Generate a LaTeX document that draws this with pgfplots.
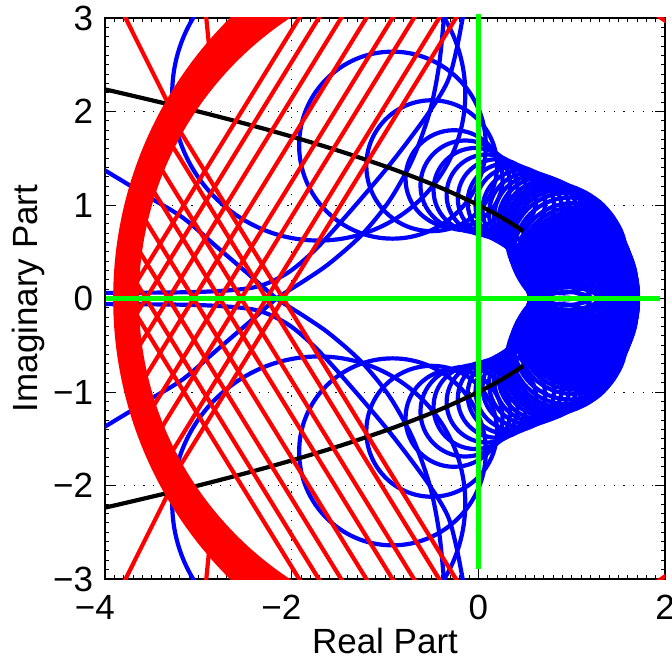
\documentclass[border=0pt]{standalone}
\usepackage{fontspec}
\setmainfont{Liberation Sans}
\usepackage{pgfplots}
\usepackage{pgfplotstable}
\pgfplotsset{compat=1.18}
\definecolor{mred}{rgb}{1,0,0}
\definecolor{mblue}{rgb}{0,0,1}
\definecolor{mgreen}{rgb}{0,1,0}
\pgfdeclareplotmark{ringdummy}{}
% axis units (scale only axis: 280pt / 6, 280.5pt / 6)
\newcommand{\xu}{46.6667pt}
\newcommand{\yu}{46.75pt}
\newcommand{\lw}{2.1pt}
\pgfplotsset{
  rings/.style={
    only marks, mark=ringdummy, scatter, point meta=explicit symbolic,
    scatter/@pre marker code/.code={%
      \let\rr=\pgfplotspointmeta
      \pgfpathellipse{\pgfpointorigin}{\pgfpoint{\rr*\xu}{0pt}}{\pgfpoint{0pt}{\rr*\yu}}%
      \pgfsetstrokecolor{#1}\pgfsetlinewidth{\lw}\pgfusepath{stroke}},
    scatter/@post marker code/.code={},
  },
  bl/.style={mblue, line width=\lw, smooth, tension=0.5},
  rd/.style={mred, line width=\lw},
}

% blue loci circles: centre x, centre y, radius
\pgfplotstableread{
x y r
1.13 0.00 0.58
1.13 0.03 0.58
1.13 0.06 0.58
1.125 0.09 0.58
1.12 0.12 0.58
1.115 0.15 0.58
1.11 0.18 0.58
1.10 0.21 0.58
1.09 0.24 0.578
1.08 0.27 0.576
1.07 0.30 0.574
1.06 0.33 0.574
1.045 0.36 0.574
1.025 0.40 0.575
1.005 0.44 0.58
0.98 0.48 0.60
0.95 0.53 0.60
0.92 0.58 0.59
0.88 0.63 0.57
0.84 0.68 0.54
0.79 0.73 0.51
0.74 0.78 0.485
0.68 0.83 0.465
0.62 0.87 0.45
0.55 0.91 0.435
0.47 0.95 0.425
0.39 0.99 0.42
0.30 1.03 0.415
0.20 1.07 0.42
0.09 1.11 0.43
-0.03 1.16 0.45
-0.14 1.21 0.48
-0.26 1.28 0.52
-0.50 1.42 0.70
-0.92 1.64 1.00
-1.71 2.19 1.57
1.13 -0.03 0.58
1.13 -0.06 0.58
1.125 -0.09 0.58
1.12 -0.12 0.58
1.115 -0.15 0.58
1.11 -0.18 0.58
1.10 -0.21 0.58
1.09 -0.24 0.578
1.08 -0.27 0.576
1.07 -0.30 0.574
1.06 -0.33 0.574
1.045 -0.36 0.574
1.025 -0.40 0.575
1.005 -0.44 0.58
0.98 -0.48 0.60
0.95 -0.53 0.60
0.92 -0.58 0.59
0.88 -0.63 0.57
0.84 -0.68 0.54
0.79 -0.73 0.51
0.74 -0.78 0.485
0.68 -0.83 0.465
0.62 -0.87 0.45
0.55 -0.91 0.435
0.47 -0.95 0.425
0.39 -0.99 0.42
0.30 -1.03 0.415
0.20 -1.07 0.42
0.09 -1.11 0.43
-0.03 -1.16 0.45
-0.14 -1.21 0.48
-0.26 -1.28 0.52
-0.50 -1.42 0.70
-0.92 -1.64 1.00
-1.71 -2.19 1.57
}\bluecircles

% red loci circles (left band)
\pgfplotstableread{
x y r
0.310 0 4.200
0.282 0 4.155
0.255 0 4.109
0.227 0 4.064
0.199 0 4.018
0.172 0 3.973
0.144 0 3.928
0.116 0 3.882
0.088 0 3.837
0.061 0 3.792
0.033 0 3.746
0.005 0 3.701
-0.022 0 3.655
-0.050 0 3.610
}\redcircles

\begin{document}
\begin{tikzpicture}
\useasboundingbox (0,0) rectangle (336pt,329.5pt);
\begin{axis}[
  at={(52.5pt,40pt)}, anchor=south west,
  scale only axis, width=280pt, height=280.5pt,
  xmin=-4, xmax=2, ymin=-3, ymax=3,
  xtick={-4,-2,0,2}, xticklabels={\llap{−}4,\llap{−}2,0,2},
  ytick={-3,-2,-1,0,1,2,3}, yticklabels={−3,−2,−1,0,1,2,3},
  minor x tick num=19, minor y tick num=9,
  tick align=inside, major tick length=5pt, minor tick length=2pt,
  tick style={black, line width=0.5pt},
  grid=major,
  major grid style={black, line width=0.5pt, dash pattern=on 0.6pt off 4.2pt},
  axis line style={black, line width=0.8pt},
  ticklabel style={font=\fontsize{17.5}{21}\selectfont, inner sep=1pt},
  xticklabel style={yshift=-6.8pt},
  yticklabel style={xshift=-4.8pt},
  label style={font=\fontsize{17.5}{21}\selectfont},
  xlabel={Real Part}, ylabel={Imaginary Part},
  xlabel style={at={(0.5,0)}, anchor=center, yshift=-31pt},
  ylabel style={at={(0,0.5)}, anchor=center, yshift=38.5pt},
  clip marker paths=true,
]
% blue loci
\addplot[rings=mblue] table[x=x, y=y, meta=r] {\bluecircles};
\addplot[bl] coordinates {(-0.15,3.1) (-0.23,2.68) (-0.33,2.32) (-0.55,1.96) (-0.95,1.43) (-1.41,0.89) (-1.75,0.52) (-2.05,0.27) (-2.4,0.12) (-3.0,0.07) (-4.05,0.06)};
\addplot[bl] coordinates {(-0.15,-3.1) (-0.23,-2.68) (-0.33,-2.32) (-0.55,-1.96) (-0.95,-1.43) (-1.41,-0.89) (-1.75,-0.52) (-2.05,-0.27) (-2.4,-0.12) (-3.0,-0.07) (-4.05,-0.06)};
\addplot[bl] coordinates {(-4.05,-1.40) (-3.52,-1.08) (-3.16,-0.86) (-2.8,-0.55) (-2.45,-0.25) (-2.16,0.0) (-1.85,0.2) (-1.59,0.38) (-1.25,0.68) (-0.95,1.05) (-0.7,1.5) (-0.52,2.0) (-0.42,2.5) (-0.36,3.1)};
\addplot[bl] coordinates {(-4.05,1.40) (-3.52,1.08) (-3.16,0.86) (-2.8,0.55) (-2.45,0.25) (-2.16,0.0) (-1.85,-0.2) (-1.59,-0.38) (-1.25,-0.68) (-0.95,-1.05) (-0.7,-1.5) (-0.52,-2.0) (-0.42,-2.5) (-0.36,-3.1)};
% black curves
\addplot[black, line width=\lw, smooth] coordinates {(-4.29,2.3) (-3.84,2.2) (-3.0,2.0) (-2.24,1.8) (-1.56,1.6) (-0.96,1.4) (-0.44,1.2) (0,1.0) (0.2775,0.85) (0.4816,0.72)};
\addplot[black, line width=\lw, smooth] coordinates {(-4.29,-2.3) (-3.84,-2.2) (-3.0,-2.0) (-2.24,-1.8) (-1.56,-1.6) (-0.96,-1.4) (-0.44,-1.2) (0,-1.0) (0.2775,-0.85) (0.4816,-0.72)};
% red loci
\addplot[rings=mred] table[x=x, y=y, meta=r] {\redcircles};
\addplot[rd] coordinates {(-0.178,3.1) (-3.325,-2.0)};
\addplot[rd] coordinates {(-0.358,3.1) (-3.381,-1.8)};
\addplot[rd] coordinates {(-0.628,3.1) (-3.467,-1.5)};
\addplot[rd] coordinates {(-0.858,3.1) (-3.573,-1.3)};
\addplot[rd] coordinates {(-1.138,3.1) (-3.668,-1.0)};
\addplot[rd] coordinates {(-1.408,3.1) (-3.690,-0.6)};
\addplot[rd] coordinates {(-1.648,3.1) (-3.746,-0.3)};
\addplot[rd] coordinates {(-1.858,3.1) (-3.771,0.0)};
\addplot[rd] coordinates {(-0.178,-3.1) (-3.325,2.0)};
\addplot[rd] coordinates {(-0.358,-3.1) (-3.381,1.8)};
\addplot[rd] coordinates {(-0.628,-3.1) (-3.467,1.5)};
\addplot[rd] coordinates {(-0.858,-3.1) (-3.573,1.3)};
\addplot[rd] coordinates {(-1.138,-3.1) (-3.668,1.0)};
\addplot[rd] coordinates {(-1.408,-3.1) (-3.690,0.6)};
\addplot[rd] coordinates {(-1.648,-3.1) (-3.746,0.3)};
\addplot[rd] coordinates {(-1.858,-3.1) (-3.771,0.0)};
\addplot[rd] coordinates {(-3.83,3.1) (-3.28,2.0)};
\addplot[rd] coordinates {(-2.925,3.1) (-2.86,2.45)};
\addplot[rd] coordinates {(-3.83,-3.1) (-3.28,-2.0)};
\addplot[rd] coordinates {(-2.925,-3.1) (-2.86,-2.45)};
\end{axis}
% coordinate axes of the s-plane, drawn unclipped
\begin{axis}[
  at={(52.5pt,40pt)}, anchor=south west,
  scale only axis, width=280pt, height=280.5pt,
  xmin=-4, xmax=2, ymin=-3, ymax=3,
  hide axis, clip=false,
]
\addplot[mgreen, line width=2.6pt] coordinates {(-3.99,0) (1.95,0)};
\addplot[mgreen, line width=2.6pt] coordinates {(0,3.04) (0,-2.89)};
\end{axis}
\end{tikzpicture}
\end{document}
